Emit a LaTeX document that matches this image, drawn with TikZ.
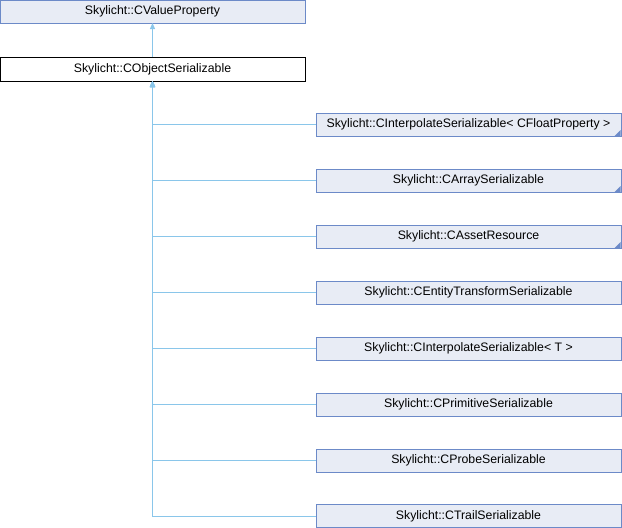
\documentclass[tikz,border=0pt]{standalone}
\usepackage{fontspec}
\setmainfont{Liberation Sans}
\usetikzlibrary{arrows.meta}
\definecolor{boxfill}{RGB}{232,236,245}
\definecolor{boxline}{RGB}{108,138,200}
\definecolor{edgecol}{RGB}{138,198,234}
\tikzset{
  cls/.style={draw=boxline, fill=boxfill, line width=1pt, minimum width=305pt, minimum height=23pt,
    inner sep=0pt, outer sep=0pt, font=\fontsize{12.3}{14}\selectfont, anchor=center},
  cur/.style={cls, draw=black, fill=white, minimum height=24pt},
  inh/.style={draw=edgecol, line width=1pt, -{Triangle[width=5pt,length=6pt]}}
}
\begin{document}
\begin{tikzpicture}[x=1pt,y=-1pt]
\useasboundingbox (0,0) rectangle (622,528);
\node[cls] (vp) at (152.5,11.5) {Skylicht::CValueProperty};
\node[cur] (os) at (152.5,69) {Skylicht::CObjectSerializable};
\node[cls] (c1) at (468.5,124.5) {Skylicht::CInterpolateSerializable< CFloatProperty >};
\node[cls] (c2) at (468.5,180.5) {Skylicht::CArraySerializable};
\node[cls] (c3) at (468.5,236.5) {Skylicht::CAssetResource};
\node[cls] (c4) at (468.5,292.5) {Skylicht::CEntityTransformSerializable};
\node[cls] (c5) at (468.5,348.5) {Skylicht::CInterpolateSerializable< T >};
\node[cls] (c6) at (468.5,404.5) {Skylicht::CPrimitiveSerializable};
\node[cls] (c7) at (468.5,460.5) {Skylicht::CProbeSerializable};
\node[cls] (c8) at (468.5,516) {Skylicht::CTrailSerializable};
\foreach \n in {c1,c2,c3}{
  \fill[boxline] ([xshift=-7pt,yshift=-0.5pt]\n.south east) -- ([xshift=-0.5pt,yshift=-0.5pt]\n.south east) -- ([xshift=-0.5pt,yshift=6pt]\n.south east) -- cycle;
}
\draw[inh] (os.north) -- (vp.south);
\foreach \n in {c8,c7,c6,c5,c4,c3,c2,c1}{
  \draw[inh] (\n.west) -| (os.south);
}
\end{tikzpicture}
\end{document}
